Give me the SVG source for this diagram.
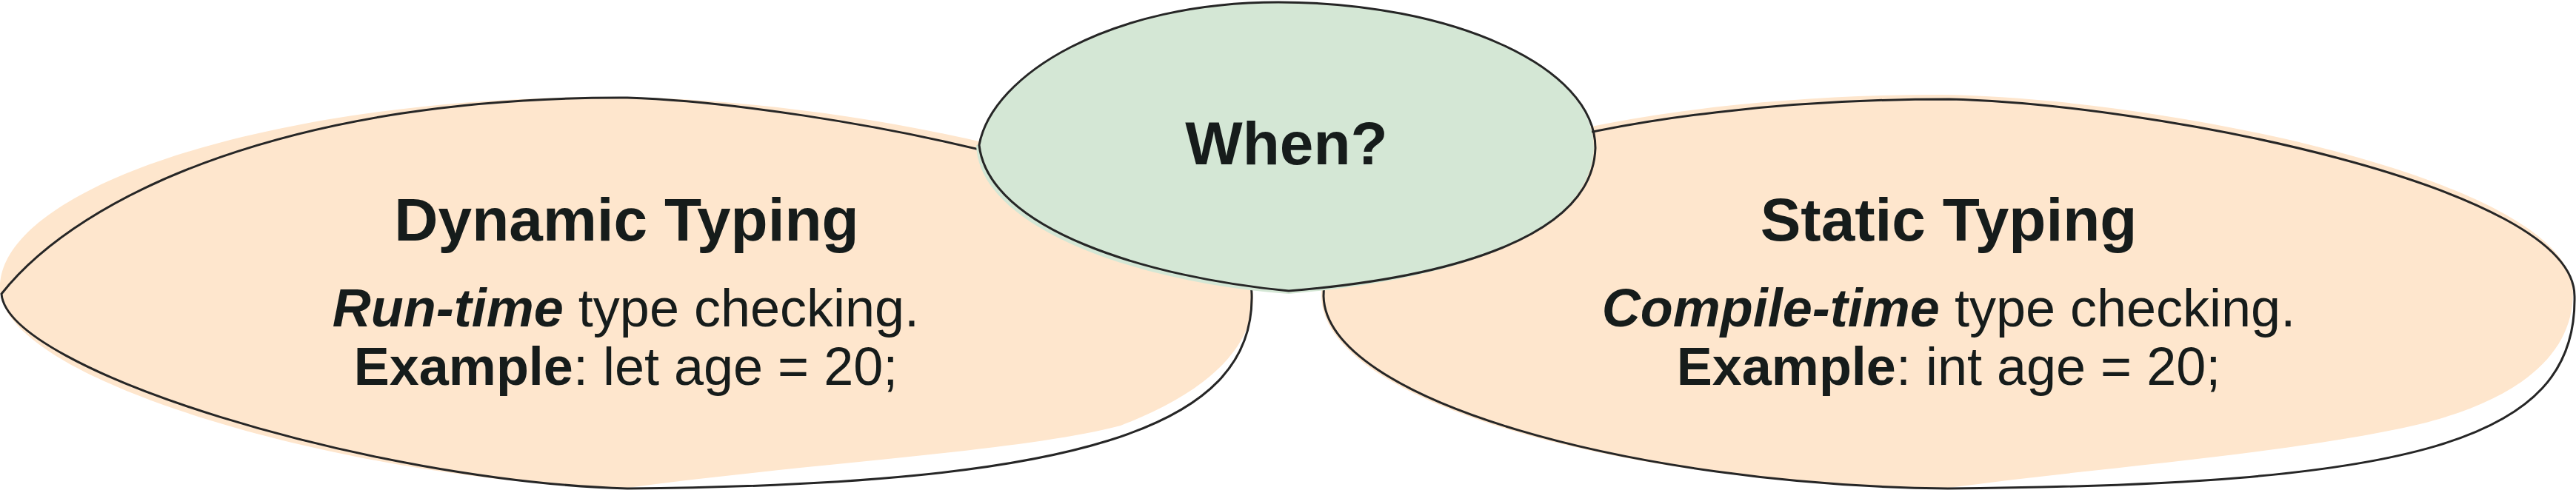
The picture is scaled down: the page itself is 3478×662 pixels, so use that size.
<svg xmlns="http://www.w3.org/2000/svg" width="3478" height="662" viewBox="0 0 3478 662">
  <style>
    .peach { fill: #FEE6CD; stroke: none; }
    .green { fill: #D4E7D5; stroke: none; }
    .outline { fill: none; stroke: #262626; stroke-width: 3; stroke-linejoin: miter; }
    .t { font-family: "Liberation Sans", Arial, sans-serif; fill: #161C1B; text-anchor: middle; }
    .title { font-size: 82px; font-weight: bold; }
    .body { font-size: 72px; }
    .b { font-weight: bold; }
    .bi { font-weight: bold; font-style: italic; }
  </style>
  <rect width="3478" height="662" fill="#FFFFFF"/>
  <g id="connectors"/>
  <g id="node-dynamic">
    <path class="peach" d="M847,659 C500,653 2,520 0,390 C-2,250 380,131 820,131 C1150,131 1690,240 1692,400 C1692,470 1630,530 1513,575 C1380,610 1100,625 847,659 Z"/>
    <path class="outline" d="M2,397 C110,260 400,130 847,132 C1100,140 1690,250 1690,397 C1695,580 1450,655 847,660 C500,650 10,500 2,397 Z"/>
    <text class="t title" x="846" y="325">Dynamic Typing</text>
    <text class="t body" x="845" y="441"><tspan class="bi">Run-time</tspan> type checking.</text>
    <text class="t body" x="845" y="520"><tspan class="b">Example</tspan>: let age = 20;</text>
  </g>
  <g id="node-static">
    <path class="peach" d="M2630,659 C2200,657 1786,545 1784,400 C1784,220 2200,128 2620,128 C2900,130 3474,240 3474,395 C3474,480 3400,540 3267,573 C3100,612 2850,630 2630,659 Z"/>
    <path class="outline" d="M1787,400 C1787,230 2200,134 2632,134 C2900,140 3476,250 3476,400 C3480,600 3250,655 2630,660 C2200,655 1790,540 1787,400 Z"/>
    <text class="t title" x="2631" y="325">Static Typing</text>
    <text class="t body" x="2631" y="441"><tspan class="bi">Compile-time</tspan> type checking.</text>
    <text class="t body" x="2631" y="520"><tspan class="b">Example</tspan>: int age = 20;</text>
  </g>
  <g id="node-when">
    <path class="green" d="M1322,196 C1340,100 1500,3 1726,3 C1960,3 2152,90 2152,200 C2146,320 1960,378 1740,397 C1550,384 1322,312 1318,196 Z"/>
    <path class="outline" d="M1322,196 C1340,100 1500,3 1726,3 C1960,3 2154,90 2154,200 C2150,320 1960,375 1740,393 C1550,375 1335,310 1322,196 Z"/>
    <text class="t title" x="1737" y="222">When?</text>
  </g>
</svg>
